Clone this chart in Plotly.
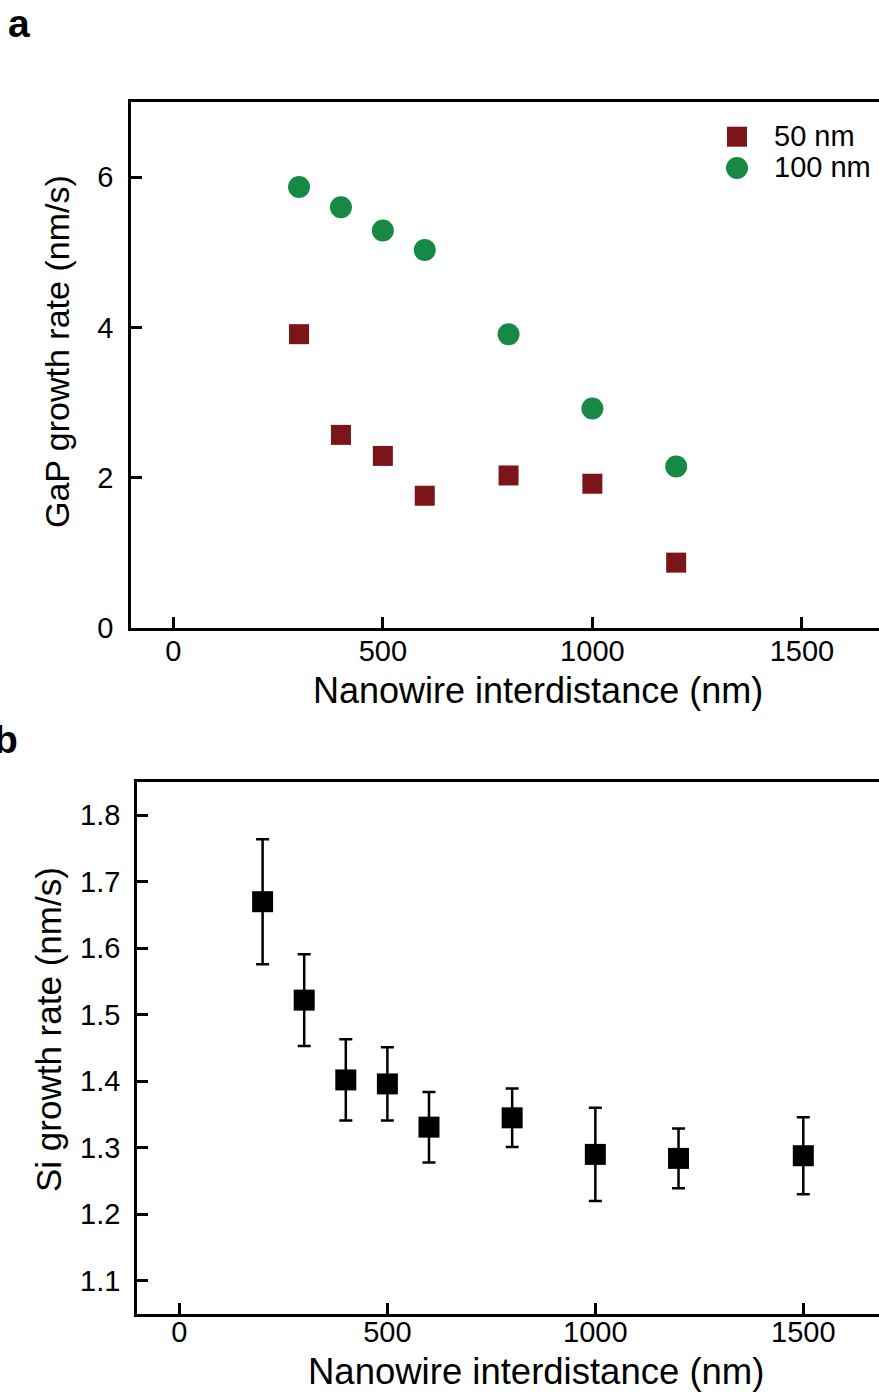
import plotly.graph_objects as go

W, H = 879, 1392

# ---- Panel a data ----
dist_a = [300, 400, 500, 600, 800, 1000, 1200]
gap_50nm = [3.91, 2.57, 2.29, 1.76, 2.03, 1.92, 0.87]
gap_100nm = [5.87, 5.60, 5.29, 5.03, 3.91, 2.92, 2.15]

# ---- Panel b data ----
dist_b = [200, 300, 400, 500, 600, 800, 1000, 1200, 1500]
si_rate = [1.670, 1.522, 1.402, 1.396, 1.331, 1.345, 1.290, 1.284, 1.288]
si_err = [0.094, 0.069, 0.061, 0.055, 0.053, 0.044, 0.070, 0.045, 0.058]

xticks = [0, 500, 1000, 1500]
yticks_a = [0, 2, 4, 6]
yticks_b = [1.1, 1.2, 1.3, 1.4, 1.5, 1.6, 1.7, 1.8]

RED = "#7b1517"
GREEN = "#168a45"
FONT = "Liberation Sans, Arial, Helvetica, sans-serif"


def px_x(p):
    return p / W


def px_y(p):
    return 1 - p / H


fig = go.Figure()

fig.add_trace(go.Scatter(
    x=dist_a, y=gap_50nm, mode="markers", name="50 nm", showlegend=False,
    marker=dict(symbol="square", size=20, color=RED),
    xaxis="x", yaxis="y"))
fig.add_trace(go.Scatter(
    x=dist_a, y=gap_100nm, mode="markers", name="100 nm", showlegend=False,
    marker=dict(symbol="circle", size=22, color=GREEN),
    xaxis="x", yaxis="y"))
fig.add_trace(go.Scatter(
    x=dist_b, y=si_rate, mode="markers", showlegend=False,
    marker=dict(symbol="square", size=21, color="black"),
    error_y=dict(type="data", array=si_err, visible=True,
                 color="black", thickness=2.5, width=6.5),
    xaxis="x2", yaxis="y2"))

axis_common = dict(
    showgrid=False, zeroline=False, showline=True, linecolor="black",
    linewidth=2.5, ticks="inside", ticklen=11, tickwidth=2.5,
    tickcolor="black", automargin=False,
    tickfont=dict(family=FONT, size=29, color="black"),
)

fig.update_layout(
    width=W, height=H,
    margin=dict(l=0, r=0, t=0, b=0),
    paper_bgcolor="white", plot_bgcolor="white",
    showlegend=False,
    xaxis=dict(axis_common, domain=[px_x(131), 1], range=[-101, 1684],
               tickvals=xticks, mirror=True, anchor="y", ticklabelstandoff=-5),
    yaxis=dict(axis_common, domain=[px_y(628), px_y(102)], range=[0, 7],
               tickvals=yticks_a, anchor="x", ticklabelstandoff=9),
    xaxis2=dict(axis_common, domain=[px_x(137), 1], range=[-102, 1682],
                tickvals=xticks, mirror=True, anchor="y2", ticklabelstandoff=-10),
    yaxis2=dict(axis_common, domain=[px_y(1314), px_y(782)], range=[1.05, 1.85],
                tickvals=yticks_b, tickformat=".1f", anchor="x2",
                ticklabelstandoff=8),
)

ann = []
# axis titles
ann.append(dict(text="Nanowire interdistance (nm)", x=px_x(538), y=px_y(690),
                font=dict(family=FONT, size=36, color="black")))
ann.append(dict(text="Nanowire interdistance (nm)", x=px_x(536), y=px_y(1371),
                font=dict(family=FONT, size=36.5, color="black")))
ann.append(dict(text="GaP growth rate (nm/s)", x=px_x(57), y=px_y(352),
                textangle=-90, font=dict(family=FONT, size=34, color="black")))
ann.append(dict(text="Si growth rate (nm/s)", x=px_x(48), y=px_y(1030),
                textangle=-90, font=dict(family=FONT, size=35, color="black")))
# panel labels
ann.append(dict(text="<b>a</b>", x=px_x(6), y=px_y(0), xanchor="left", yanchor="top",
                font=dict(family=FONT, size=39, color="black")))
ann.append(dict(text="<b>b</b>", x=px_x(-8), y=px_y(716), xanchor="left", yanchor="top",
                font=dict(family=FONT, size=39, color="black")))
# legend labels
ann.append(dict(text="50 nm", x=px_x(772), y=px_y(136), xanchor="left",
                font=dict(family=FONT, size=29, color="black")))
ann.append(dict(text="100 nm", x=px_x(772), y=px_y(167), xanchor="left",
                font=dict(family=FONT, size=29, color="black")))
for a in ann:
    a.setdefault("xanchor", "center")
    a.setdefault("yanchor", "middle")
    a.update(xref="paper", yref="paper", showarrow=False)

# legend keys
shapes = [
    dict(type="rect", xref="paper", yref="paper",
         x0=px_x(727), x1=px_x(747), y0=px_y(146.7), y1=px_y(126.7),
         fillcolor=RED, line=dict(width=0)),
    dict(type="circle", xref="paper", yref="paper",
         x0=px_x(726), x1=px_x(748), y0=px_y(179), y1=px_y(157),
         fillcolor=GREEN, line=dict(width=0)),
]
fig.update_layout(annotations=ann, shapes=shapes)

# remove the default 8px page margin so the figure sits at the window's corner
fig.write_html("out.html",
               config={"displayModeBar": False},
               post_script="document.body.style.margin='0';document.body.style.overflow='hidden';")
